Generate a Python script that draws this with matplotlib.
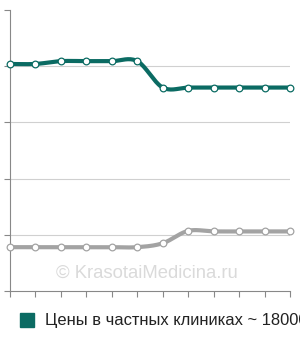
import numpy as np
import matplotlib
matplotlib.use("Agg")
import matplotlib.pyplot as plt

plt.rcParams["font.family"] = ["Liberation Sans", "DejaVu Sans"]

# Data (rubles)
x_idx = list(range(12))
private_prices = [20200, 20200, 20450, 20450, 20450, 20450, 18100, 18100, 18100, 18100, 18100, 18100]
public_prices = [3900, 3900, 3900, 3900, 3900, 3900, 4250, 5350, 5300, 5300, 5300, 5300]
legend_label = "Цены в частных клиниках ~ 18000 руб."

TEAL = "#0b6b63"
GRAY = "#a3a3a3"


def smooth(xs, ys, steps=20):
    # Catmull-Rom curve through the points, just for the rounded line look
    xs = np.asarray(xs, float)
    ys = np.asarray(ys, float)
    px = np.concatenate([[xs[0]], xs, [xs[-1]]])
    py = np.concatenate([[ys[0]], ys, [ys[-1]]])
    out_x, out_y = [], []
    t = np.linspace(0, 1, steps)
    for i in range(1, len(px) - 2):
        for p, out in ((px, out_x), (py, out_y)):
            p0, p1, p2, p3 = p[i - 1], p[i], p[i + 1], p[i + 2]
            seg = 0.5 * (2 * p1 + (-p0 + p2) * t
                         + (2 * p0 - 5 * p1 + 4 * p2 - p3) * t ** 2
                         + (-p0 + 3 * p1 - 3 * p2 + p3) * t ** 3)
            out.extend(seg)
    return out_x, out_y


fig = plt.figure(figsize=(3.0, 3.4), dpi=100)
ax = fig.add_axes([10 / 300, 49 / 340, 280 / 300, 281 / 340])

ax.set_xlim(0, 11)
ax.set_ylim(0, 25000)

# grid
for v in [5000, 10000, 15000, 20000]:
    ax.axhline(v, color="#d0d0d0", lw=0.8, zorder=0)

for ys, col in ((private_prices, TEAL), (public_prices, GRAY)):
    sx, sy = smooth(x_idx, ys)
    ax.plot(sx, sy, color=col, lw=3.0, solid_capstyle="round", zorder=2, clip_on=False)
    ax.plot(x_idx, ys, "o", ms=4.8, mfc="white", mec=col, mew=0.9, zorder=3, clip_on=False)

ax.set_xticks(x_idx)
ax.set_yticks([0, 5000, 10000, 15000, 20000, 25000])
ax.set_xticklabels([])
ax.set_yticklabels([])
ax.tick_params(axis="both", color="#888888", length=4, width=0.8)
for side in ("top", "right"):
    ax.spines[side].set_visible(False)
for side in ("left", "bottom"):
    ax.spines[side].set_color("#888888")
    ax.spines[side].set_linewidth(0.8)

# watermark
fig.text(147 / 300, (340 - 273) / 340, "© KrasotaiMedicina.ru", ha="center", va="center",
         fontsize=13.3, color="#dadada")

# legend (the label runs off the right edge, as in the original)
fig.patches.append(plt.Rectangle((20 / 300, (340 - 327) / 340), 14 / 300, 14 / 340,
                                 transform=fig.transFigure, color=TEAL))
fig.text(45 / 300, (340 - 320) / 340, legend_label, ha="left", va="center",
         fontsize=11.9, color="#222222")

fig.savefig("out.png", dpi=100)
